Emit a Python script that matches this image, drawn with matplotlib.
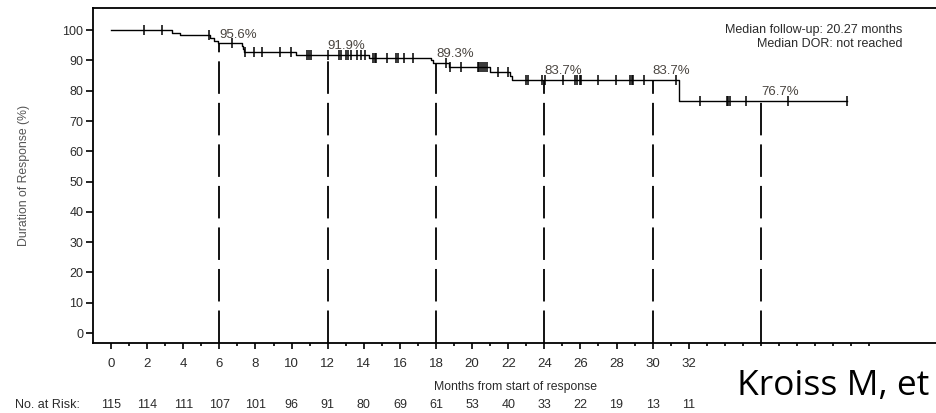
import numpy as np
import matplotlib
matplotlib.use("Agg")
import matplotlib.pyplot as plt
from matplotlib.ticker import FixedLocator

plt.rcParams["font.family"] = ["Liberation Sans", "DejaVu Sans"]

# Kaplan-Meier steps: month of each drop and survival (%) after it
step_months = [0, 3.4, 3.8, 5.5, 5.7, 5.9, 7.25, 7.3, 7.35, 10.25, 14.3, 17.7, 17.85,
               18.7, 21.0, 22.1, 22.2, 31.45]
step_surv = [100, 99.1, 98.3, 97.4, 96.5, 95.6, 94.7, 93.8, 92.9, 91.9, 90.7, 90.0, 89.3,
             87.7, 86.2, 85.0, 83.7, 76.7]
last_month = 40.75

# censored observations (months)
censor_months = [1.8, 2.8, 5.4, 6.7, 7.4, 7.9, 8.35, 9.35, 9.95, 10.85, 10.95, 11.1, 12.0,
                 12.6, 12.75, 13.0, 13.1, 13.3, 13.6, 13.85, 14.05, 14.5, 14.6, 14.7, 15.3,
                 15.8, 15.9, 16.25, 16.7, 18.55, 18.8, 19.4, 20.3, 20.4, 20.5, 20.6, 20.7,
                 20.85, 21.45, 22.0, 23.0, 23.1, 23.85, 24.05, 25.05, 25.7, 25.8, 25.95,
                 26.05, 26.95, 27.95, 28.75, 28.85, 28.9, 29.5, 31.3, 32.6, 34.1, 34.2,
                 34.3, 35.2, 37.5, 40.75]

# landmark estimates
landmark_months = [6, 12, 18, 24, 30, 36]
landmark_surv = [95.6, 91.9, 89.3, 83.7, 83.7, 76.7]

# numbers at risk
risk_months = list(range(0, 33, 2))
at_risk = [115, 114, 111, 107, 101, 96, 91, 80, 69, 61, 53, 40, 33, 22, 19, 13, 11]

txt = "#2b2b2b"

fig = plt.figure(figsize=(9.36, 4.13), dpi=100)
ax = fig.add_axes([0.0994, 0.1695, 0.9064, 0.811])
ax.set_xlim(-1, 46)
ax.set_ylim(-3.3, 107.3)

# step curve
xs = np.array(step_months + [last_month])
ys = np.array(step_surv + [step_surv[-1]])
ax.step(xs, ys, where="post", color="black", lw=1.0, zorder=3)

# censor marks sit on the curve
idx = np.searchsorted(step_months, censor_months, side="right") - 1
cens_y = np.array(step_surv)[idx]
ax.plot(censor_months, cens_y, ls="none", marker="|", ms=6.5, mew=1.1, color="black", zorder=4)

# landmark dashed lines and labels
for m, s in zip(landmark_months, landmark_surv):
    ax.plot([m, m], [ax.get_ylim()[0], s], color="black", lw=1.3,
            linestyle=(0, (18, 5)), zorder=2)
    ax.text(m, s + 0.9, f"{s:.1f}%", ha="left", va="bottom", fontsize=9.5, color="#4a4540")

ax.text(0.964, 0.910, "Median follow-up: 20.27 months\nMedian DOR: not reached",
        transform=fig.transFigure, ha="right", va="center", fontsize=9, color=txt,
        linespacing=1.2, multialignment="right")

# axes styling
for sp in ax.spines.values():
    sp.set_linewidth(1.3)
ax.set_yticks(range(0, 101, 10))
ax.set_xticks(risk_months)
ax.xaxis.set_minor_locator(FixedLocator([m for m in range(43) if m > 32 or m % 2 == 1]))
ax.tick_params(axis="x", which="major", length=4.5, width=1.2, pad=6, labelsize=9.5,
               labelcolor=txt)
ax.tick_params(axis="x", which="minor", length=2.5, width=1.2)
ax.tick_params(axis="y", length=5, width=1.2, pad=2, labelsize=9, labelcolor=txt)
ax.set_ylabel("Duration of Response (%)", fontsize=8.8, color="#555555", labelpad=23)

xtr = ax.get_xaxis_transform()
ax.text(22.4, -0.131, "Months from start of response", transform=xtr, ha="center",
        va="center", fontsize=8.8, color=txt)

for m, n in zip(risk_months, at_risk):
    ax.text(m, -0.185, str(n), transform=xtr, ha="center", va="center", fontsize=9,
            color=txt, clip_on=False)
fig.text(0.016, 0.019, "No. at Risk:", ha="left", va="center", fontsize=9, color=txt)

fig.text(0.787, 0.043, "Kroiss M, et", ha="left", va="baseline", fontsize=25.5,
         family=["Open Sans", "DejaVu Sans"], color="black")

fig.savefig("out.png", dpi=100)
